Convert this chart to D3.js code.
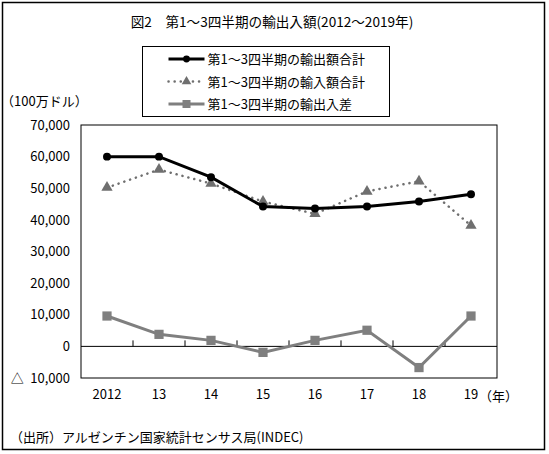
<!DOCTYPE html>
<html>
<head>
<meta charset="utf-8">
<script src="https://cdn.jsdelivr.net/npm/d3@7"></script>
<style>
  body { margin: 0; background: #fff; }
  text { font-family: "Noto Sans CJK JP", sans-serif; fill: #000; }
</style>
</head>
<body>
<svg width="549" height="454"></svg>
<script>
var years = ["2012", "13", "14", "15", "16", "17", "18", "19"];
var exports = [60000, 60000, 53500, 44200, 43600, 44200, 45800, 48100];
var imports = [50200, 55900, 51500, 45800, 41900, 49000, 52200, 38200];
var balance = [9600, 3800, 1900, -1900, 1900, 5100, -6700, 9600];
var yTicks = [-10000, 0, 10000, 20000, 30000, 40000, 50000, 60000, 70000];

var svg = d3.select("svg");

var margins = {top: 125, right: 52, bottom: 76, left: 81};
var width = 549 - margins.left - margins.right,
    height = 454 - margins.top - margins.bottom;

// outer frame
svg.append("rect")
  .attr("x", 2.5).attr("y", 2.5)
  .attr("width", 542).attr("height", 447)
  .attr("fill", "none").attr("stroke", "#000").attr("stroke-width", 1.5);

svg.append("text")
  .attr("x", 272).attr("y", 27)
  .attr("text-anchor", "middle")
  .style("font-size", "13.6px")
  .text("図2　第1～3四半期の輸出入額(2012～2019年)");

var x = d3.scaleBand()
  .domain(years)
  .range([0, width]);

var y = d3.scaleLinear()
  .domain([-10000, 70000])
  .range([height, 0]);

var g = svg.append("g")
  .attr("transform", "translate(" + margins.left + "," + margins.top + ")");

g.append("rect")
  .attr("width", width).attr("height", height)
  .attr("fill", "none").attr("stroke", "#000").attr("stroke-width", 1);

// zero line with ticks between categories
g.append("line")
  .attr("x1", 0).attr("x2", width)
  .attr("y1", y(0)).attr("y2", y(0))
  .attr("stroke", "#000");

g.selectAll(".cat-tick")
  .data(years.slice(1))
  .enter()
  .append("line")
  .attr("class", "cat-tick")
  .attr("x1", function(d) { return x(d); })
  .attr("x2", function(d) { return x(d); })
  .attr("y1", y(0))
  .attr("y2", y(0) - 6)
  .attr("stroke", "#000");

var fmt = d3.format(",");
var yAxis = d3.axisLeft(y)
  .tickValues(yTicks)
  .tickSize(0)
  .tickPadding(11)
  .tickFormat(function(d) {
    return d < 0 ? "△\u2002" + fmt(-d) : fmt(d);
  });

g.append("g")
  .attr("class", "y-axis")
  .call(yAxis)
  .call(function(s) { s.select(".domain").remove(); })
  .selectAll("text")
  .style("font-size", "13px");

var xAxis = d3.axisBottom(x)
  .tickSize(0)
  .tickPadding(12);

g.append("g")
  .attr("class", "x-axis")
  .attr("transform", "translate(0," + height + ")")
  .call(xAxis)
  .call(function(s) { s.select(".domain").remove(); })
  .selectAll("text")
  .style("font-size", "13px");

svg.append("text")
  .attr("x", 479).attr("y", 401)
  .style("font-size", "13px")
  .text("（年）");

svg.append("text")
  .attr("x", 1).attr("y", 106)
  .style("font-size", "13px")
  .text("（100万ドル）");

svg.append("text")
  .attr("x", 10).attr("y", 442)
  .style("font-size", "13px")
  .text("（出所）アルゼンチン国家統計センサス局(INDEC)");

var cx = function(d, i) { return x(years[i]) + x.bandwidth() / 2; };
var line = d3.line()
  .x(function(d, i) { return x(years[i]) + x.bandwidth() / 2; })
  .y(function(d) { return y(d); });

var series = [
  {name: "第1～3四半期の輸出額合計", values: exports, color: "#000", width: 3, dash: null, marker: "circle"},
  {name: "第1～3四半期の輸入額合計", values: imports, color: "#6f6f6f", width: 2.5, dash: "0.1,6", marker: "triangle"},
  {name: "第1～3四半期の輸出入差", values: balance, color: "#7f7f7f", width: 3, dash: null, marker: "square"}
];

var symbols = {
  circle: d3.symbol().type(d3.symbolCircle).size(50),
  triangle: d3.symbol().type(d3.symbolTriangle).size(55),
  square: d3.symbol().type(d3.symbolSquare).size(85)
};
var legendSymbols = {
  circle: d3.symbol().type(d3.symbolCircle).size(36),
  triangle: d3.symbol().type(d3.symbolTriangle).size(40),
  square: d3.symbol().type(d3.symbolSquare).size(64)
};

// draw bottom series first so export line sits on top
[2, 1, 0].forEach(function(k) {
  var s = series[k];
  g.append("path")
    .datum(s.values)
    .attr("fill", "none")
    .attr("stroke", s.color)
    .attr("stroke-width", s.width)
    .attr("stroke-linecap", s.dash ? "round" : "butt")
    .attr("stroke-dasharray", s.dash)
    .attr("d", line);
  g.selectAll(".m" + k)
    .data(s.values)
    .enter()
    .append("path")
    .attr("class", "m" + k)
    .attr("transform", function(d, i) { return "translate(" + cx(d, i) + "," + y(d) + ")"; })
    .attr("d", symbols[s.marker])
    .attr("fill", s.color);
});

// legend
var lg = svg.append("g").attr("transform", "translate(142.5,46.5)");
lg.append("rect")
  .attr("width", 247).attr("height", 70)
  .attr("fill", "#fff").attr("stroke", "#000").attr("stroke-width", 1);

series.forEach(function(s, i) {
  var row = lg.append("g").attr("transform", "translate(0," + (12.5 + i * 22.5) + ")");
  row.append("line")
    .attr("x1", 26).attr("x2", 62)
    .attr("stroke", s.color)
    .attr("stroke-width", s.width)
    .attr("stroke-linecap", s.dash ? "round" : "butt")
    .attr("stroke-dasharray", s.dash);
  row.append("path")
    .attr("transform", "translate(44,0)")
    .attr("d", legendSymbols[s.marker])
    .attr("fill", s.color);
  row.append("text")
    .attr("x", 65).attr("y", 5)
    .style("font-size", "13px")
    .text(s.name);
});
</script>
</body>
</html>
